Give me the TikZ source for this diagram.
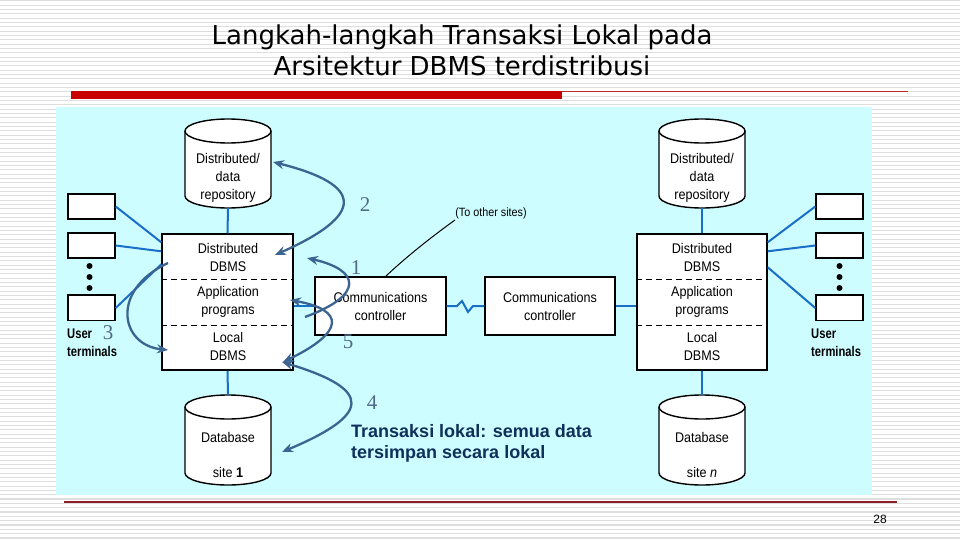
\documentclass[tikz,border=0pt]{standalone}
\usepackage{fontspec}
\setmainfont{Liberation Sans}
\newfontfamily\narrowf{Liberation Sans}[FakeStretch=0.9]
\newfontfamily\termf{Liberation Sans}[FakeStretch=0.8]
\newfontfamily\titlef{DejaVu Sans}
\newfontfamily\numf{Liberation Serif}
\usetikzlibrary{arrows.meta,calc}
\definecolor{panel}{RGB}{206,253,255}
\definecolor{linkblue}{RGB}{25,110,200}
\definecolor{arrowblue}{RGB}{60,100,145}
\definecolor{numcol}{RGB}{80,105,135}
\definecolor{capcol}{RGB}{15,48,90}
\definecolor{redbar}{RGB}{200,0,0}
\definecolor{redline}{RGB}{190,40,40}
\definecolor{botline}{RGB}{140,30,40}
\definecolor{stripe}{RGB}{222,222,222}
\newcommand\dbcyl[3]{%
  \fill[white] (#1-43,#2) rectangle (#1+43,#3);
  \fill[white] (#1,#3) ellipse[x radius=43,y radius=12];
  \draw[line width=1.4pt] (#1-43,#2) -- (#1-43,#3) arc[start angle=180,end angle=0,x radius=43,y radius=12] -- (#1+43,#2);
  \draw[line width=1.4pt,fill=white] (#1,#2) ellipse[x radius=43,y radius=12];
}
\begin{document}
\begin{tikzpicture}[x=1pt,y=-1pt,
  box/.style={draw=black,line width=1.4pt,fill=white,inner sep=0pt},
  lbl/.style={font=\narrowf\fontsize{14}{18}\selectfont,align=center,inner sep=0pt},
  link/.style={draw=linkblue,line width=2pt},
  flow/.style={draw=arrowblue,line width=2.3pt,-{Stealth[length=11pt,width=9pt]}},
  flowtwo/.style={draw=arrowblue,line width=2.3pt,{Stealth[length=11pt,width=9pt]}-{Stealth[length=11pt,width=9pt]}},
  num/.style={font=\numf\fontsize{21}{21}\selectfont,text=numcol,inner sep=0pt},
  term/.style={box,minimum width=47pt,minimum height=25pt},
  shell/.style={minimum width=86pt,inner sep=0pt},
  dashline/.style={line width=1.2pt,dash pattern=on 6pt off 4pt},
  termdot/.style={fill=black,radius=3pt}
]
\useasboundingbox (0,0) rectangle (960,540);
\fill[white] (0,0) rectangle (960,540);
\foreach \i in {0,...,124} \draw[stripe,line width=1.2pt] (0,\i*4.333+0.8) -- (960,\i*4.333+0.8);

% title
\node[font=\titlef\fontsize{26}{31}\selectfont,align=center,inner sep=0pt] (title) at (462,50) {Langkah-langkah Transaksi Lokal pada\\Arsitektur DBMS terdistribusi};
\fill[redbar] (71,91) rectangle (562,99);
\draw[redline,line width=1pt] (562,91.5) -- (908,91.5);

% panel
\fill[panel] (56,107) rectangle (872,495);

% left site
\dbcyl{228}{131}{196}
\node[shell,minimum height=89pt] (repoL) at (228,163.5) {};
\node[lbl] (repoLt) at (228,178) {Distributed/\\data\\repository};
\node[box,minimum width=131pt,minimum height=136pt] (mainL) at (227.5,302) {};
\draw[dashline] ($(mainL.north west)+(0,46)$) -- ($(mainL.north east)+(0,46)$);
\draw[dashline] ($(mainL.north west)+(0,92)$) -- ($(mainL.north east)+(0,92)$);
\node[lbl] (ddbmsL) at (228,257) {Distributed\\DBMS};
\node[lbl] (appL) at (228,302) {Application\\programs};
\node[lbl] (ldbmsL) at (228,346) {Local\\DBMS};
\dbcyl{228}{407}{473}
\node[shell,minimum height=90pt] (dbL) at (228,440) {};
\node[lbl] (dbLt) at (228,437) {Database};
\node[lbl] (siteL) at (228,472) {site \textbf{1}};
\node[term] (tL1) at (91.5,206.5) {};
\node[term] (tL2) at (91.5,245.5) {};
\node[term] (tL3) at (91.5,308) {};
\draw[line width=2.6pt] (tL3.north west) -- (tL3.north east);
\fill[termdot] (89.5,266) circle;
\fill[termdot] (89.5,277) circle;
\fill[termdot] (89.5,288) circle;
\node[anchor=west,align=left,inner sep=0pt,font=\termf\bfseries\fontsize{14}{18}\selectfont] (userL) at (67,343) {User\\terminals};

% right site
\dbcyl{702}{131}{196}
\node[shell,minimum height=89pt] (repoR) at (702,163.5) {};
\node[lbl] (repoRt) at (702,178) {Distributed/\\data\\repository};
\node[box,minimum width=130pt,minimum height=136pt] (mainR) at (702,302) {};
\draw[dashline] ($(mainR.north west)+(0,46)$) -- ($(mainR.north east)+(0,46)$);
\draw[dashline] ($(mainR.north west)+(0,92)$) -- ($(mainR.north east)+(0,92)$);
\node[lbl] (ddbmsR) at (702,257) {Distributed\\DBMS};
\node[lbl] (appR) at (702,302) {Application\\programs};
\node[lbl] (ldbmsR) at (702,346) {Local\\DBMS};
\dbcyl{702}{407}{473}
\node[shell,minimum height=90pt] (dbR) at (702,440) {};
\node[lbl] (dbRt) at (702,437) {Database};
\node[lbl] (siteR) at (702,472) {site \textit{n}};
\node[term] (tR1) at (839.5,206.5) {};
\node[term] (tR2) at (839.5,245.5) {};
\node[term] (tR3) at (839.5,308) {};
\draw[line width=2.6pt] (tR3.north west) -- (tR3.north east);
\fill[termdot] (839.5,266) circle;
\fill[termdot] (839.5,277) circle;
\fill[termdot] (839.5,288) circle;
\node[anchor=west,align=left,inner sep=0pt,font=\termf\bfseries\fontsize{14}{18}\selectfont] (userR) at (811,343) {User\\terminals};

% communications controllers
\node[box,minimum width=131pt,minimum height=58pt] (commL) at (380.5,306) {};
\node[lbl] (commLt) at (380.5,306) {Communications\\controller};
\node[box,minimum width=130pt,minimum height=58pt] (commR) at (550,306) {};
\node[lbl] (commRt) at (550,306) {Communications\\controller};
\node[font=\narrowf\fontsize{12}{14}\selectfont,inner sep=0pt] (other) at (491,213) {(To other sites)};
\coordinate (otsA) at (455,220);
\coordinate (otsB) at (385,277);
\draw[line width=1pt] (otsA) .. controls (430,238) and (405,258) .. (otsB);

% links
\draw[link] (repoL.south) -- (mainL.north);
\draw[link] (mainL.south) -- (dbL.north);
\draw[link] (repoR.south) -- (mainR.north);
\draw[link] (mainR.south) -- (dbR.north);
\draw[link] (tL1.east) -- ($(mainL.north west)+(0,9)$);
\draw[link] (tL2.east) -- ($(mainL.north west)+(0,18)$);
\draw[link] (tL3.east) -- ($(mainL.north west)+(0,31)$);
\draw[link] (tR1.west) -- ($(mainR.north east)+(0,9)$);
\draw[link] (tR2.west) -- ($(mainR.north east)+(0,18)$);
\draw[link] (tR3.west) -- ($(mainR.north east)+(0,34)$);
\draw[link] (commL.west) -- (commL.west -| mainL.east);
\draw[link] (commR.east) -- (commR.east -| mainR.west);
\draw[link] (commL.east) -- (457,306) -- (462,301) -- (468,312) -- (473,306) -- (commR.west);

% flow arrows
\coordinate (a2s) at (273,162);
\coordinate (a2e) at (275,255);
\draw[flowtwo] (a2s) .. controls (365,185) and (365,215) .. (a2e);
\coordinate (a1s) at (305,317);
\coordinate (a1e) at (307,258);
\draw[flow] (a1s) .. controls (365,295) and (360,270) .. (a1e);
\coordinate (a5s) at (290,300);
\coordinate (a5e) at (283,362);
\draw[flowtwo] (a5s) .. controls (345,310) and (345,332) .. (a5e);
\coordinate (a4s) at (282,362);
\coordinate (a4e) at (282,452);
\draw[flowtwo] (a4s) .. controls (375,390) and (370,415) .. (a4e);
\coordinate (a3s) at (168,263);
\coordinate (a3e) at (168,350);
\draw[flow] (a3s) .. controls (110,290) and (120,345) .. (a3e);

\node[num] (n2) at (365,205) {2};
\node[num] (n1) at (356,268) {1};
\node[num] (n5) at (348,342) {5};
\node[num] (n4) at (372,403) {4};
\node[num] (n3) at (108,333) {3};

% caption
\node[anchor=west,align=left,inner sep=0pt,text=capcol,font=\bfseries\fontsize{18}{21}\selectfont] (cap) at (351,443.5) {Transaksi lokal: semua data\\tersimpan secara lokal};

% footer
\draw[botline,line width=1.2pt] (64,502) -- (897,502);
\node[font=\fontsize{12}{12}\selectfont,inner sep=0pt] (pnum) at (880,519) {28};
\end{tikzpicture}
\end{document}
